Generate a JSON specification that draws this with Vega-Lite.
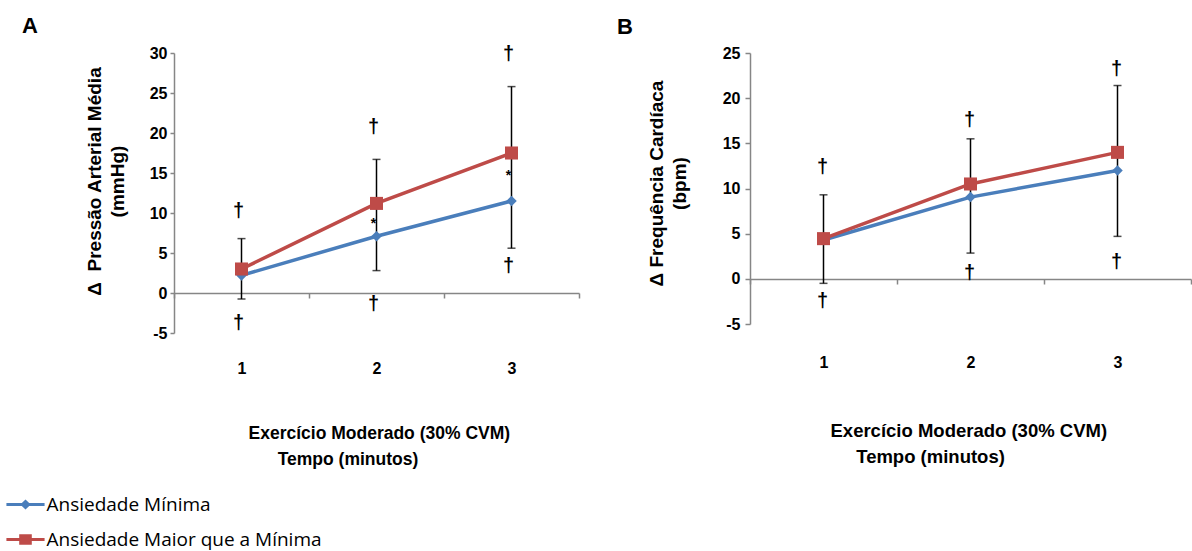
{
  "$schema": "https://vega.github.io/schema/vega-lite/v6.json",
  "background": "white",
  "padding": {"left": 8, "top": 14, "right": 0, "bottom": 0},
  "config": {
    "view": {"stroke": null},
    "font": "Liberation Sans",
    "axis": {"grid": false, "labelOverlap": false, "labelFont": "Liberation Sans", "labelFontWeight": "bold", "labelFontSize": 16, "labelColor": "#000000", "titleFont": "Liberation Sans", "titleFontWeight": "bold", "titleFontSize": 16, "titleColor": "#000000"}
  },
  "datasets": {
    "serA": [
      {"t": 1, "grupo": "Ansiedade Mínima", "v": 2.2},
      {"t": 2, "grupo": "Ansiedade Mínima", "v": 7.1},
      {"t": 3, "grupo": "Ansiedade Mínima", "v": 11.5},
      {"t": 1, "grupo": "Ansiedade Maior que a Mínima", "v": 3.0},
      {"t": 2, "grupo": "Ansiedade Maior que a Mínima", "v": 11.2},
      {"t": 3, "grupo": "Ansiedade Maior que a Mínima", "v": 17.5}
    ],
    "errA": [
      {"t": 1, "lo": -0.75, "hi": 6.8},
      {"t": 2, "lo": 2.8, "hi": 16.7},
      {"t": 3, "lo": 5.6, "hi": 25.8}
    ],
    "annA": [
      {"t": 1, "y": 10.3, "s": "†"},
      {"t": 1, "y": -3.7, "s": "†"},
      {"t": 2, "y": 20.7, "s": "†"},
      {"t": 2, "y": -1.4, "s": "†"},
      {"t": 3, "y": 29.9, "s": "†"},
      {"t": 3, "y": 3.4, "s": "†"},
      {"t": 2, "y": 8.6, "s": "*"},
      {"t": 3, "y": 14.6, "s": "*"}
    ],
    "serB": [
      {"t": 1, "grupo": "Ansiedade Mínima", "v": 4.3},
      {"t": 2, "grupo": "Ansiedade Mínima", "v": 9.05},
      {"t": 3, "grupo": "Ansiedade Mínima", "v": 12.0},
      {"t": 1, "grupo": "Ansiedade Maior que a Mínima", "v": 4.45},
      {"t": 2, "grupo": "Ansiedade Maior que a Mínima", "v": 10.5},
      {"t": 3, "grupo": "Ansiedade Maior que a Mínima", "v": 14.0}
    ],
    "errB": [
      {"t": 1, "lo": -0.5, "hi": 9.3},
      {"t": 2, "lo": 2.85, "hi": 15.5},
      {"t": 3, "lo": 4.7, "hi": 21.4}
    ],
    "annB": [
      {"t": 1, "y": 12.4, "s": "†"},
      {"t": 1, "y": -2.5, "s": "†"},
      {"t": 2, "y": 17.6, "s": "†"},
      {"t": 2, "y": 0.7, "s": "†"},
      {"t": 3, "y": 23.2, "s": "†"},
      {"t": 3, "y": 1.9, "s": "†"}
    ]
  },
  "spacing": 37,
  "resolve": {"scale": {"color": "independent"}},
  "hconcat": [
    {
      "width": 405,
      "height": 280,
      "title": {"text": "A", "anchor": "start", "frame": "group", "dx": -152, "offset": -11, "baseline": "alphabetic", "fontSize": 22, "fontWeight": "bold", "font": "Liberation Sans", "color": "#000000"},
      "resolve": {"axis": {"x": "independent"}},
      "layer": [
        {
          "data": {"name": "errA"},
          "mark": {"type": "rule", "color": "#000000", "strokeWidth": 1.5},
          "encoding": {
            "x": {"field": "t", "type": "quantitative", "scale": {"domain": [0.5, 3.5], "nice": false, "zero": false},
                  "axis": {"orient": "bottom", "offset": -40, "values": [0.5, 1.5, 2.5, 3.5], "labels": false, "title": null, "domainColor": "#868686", "domainWidth": 1.5, "tickColor": "#868686", "tickWidth": 1.5, "tickSize": 5}},
            "y": {"field": "lo", "type": "quantitative", "scale": {"domain": [-5, 30], "nice": false, "zero": false},
                  "axis": {"values": [-5, 0, 5, 10, 15, 20, 25, 30], "labelOverlap": false, "labelBound": false, "labelFlush": false, "labelExpr": "'' + datum.value", "title": ["Δ\u00a0 Pressão Arterial Média", "(mmHg)"], "titleFontSize": 19, "titleLineHeight": 23, "titlePadding": 22, "titleY": 128, "domainColor": "#868686", "domainWidth": 1.5, "tickColor": "#868686", "tickWidth": 1.5, "tickSize": 4, "labelPadding": 3}},
            "y2": {"field": "hi"}
          }
        },
        {
          "data": {"name": "errA"},
          "mark": {"type": "tick", "orient": "horizontal", "size": 8, "thickness": 1.5, "color": "#000000"},
          "encoding": {
            "x": {"field": "t", "type": "quantitative", "axis": null},
            "y": {"field": "lo", "type": "quantitative",
                  "axis": {"values": [-5, 0, 5, 10, 15, 20, 25, 30], "labelOverlap": false, "labelBound": false, "labelFlush": false, "labelExpr": "'' + datum.value", "title": ["Δ\u00a0 Pressão Arterial Média", "(mmHg)"], "titleFontSize": 19, "titleLineHeight": 23, "titlePadding": 22, "titleY": 128, "domainColor": "#868686", "domainWidth": 1.5, "tickColor": "#868686", "tickWidth": 1.5, "tickSize": 4, "labelPadding": 3}}
          }
        },
        {
          "data": {"name": "errA"},
          "mark": {"type": "tick", "orient": "horizontal", "size": 8, "thickness": 1.5, "color": "#000000"},
          "encoding": {
            "x": {"field": "t", "type": "quantitative", "axis": null},
            "y": {"field": "hi", "type": "quantitative",
                  "axis": {"values": [-5, 0, 5, 10, 15, 20, 25, 30], "labelOverlap": false, "labelBound": false, "labelFlush": false, "labelExpr": "'' + datum.value", "title": ["Δ\u00a0 Pressão Arterial Média", "(mmHg)"], "titleFontSize": 19, "titleLineHeight": 23, "titlePadding": 22, "titleY": 128, "domainColor": "#868686", "domainWidth": 1.5, "tickColor": "#868686", "tickWidth": 1.5, "tickSize": 4, "labelPadding": 3}}
          }
        },
        {
          "data": {"name": "serA"},
          "mark": {"type": "line", "strokeWidth": 3.5},
          "encoding": {
            "x": {"field": "t", "type": "quantitative",
                  "axis": {"orient": "bottom", "values": [1, 2, 3], "format": "d", "domain": false, "ticks": false, "tickSize": 0, "labelPadding": 27,
                           "title": ["Exercício Moderado (30% CVM)", "\u200b\u00a0\u00a0\u00a0\u00a0\u00a0\u00a0Tempo (minutos)"], "titleFontSize": 17.5, "titleAlign": "left", "titleX": 74, "titlePadding": 48, "titleLineHeight": 26}},
            "y": {"field": "v", "type": "quantitative",
                  "axis": {"values": [-5, 0, 5, 10, 15, 20, 25, 30], "labelOverlap": false, "labelBound": false, "labelFlush": false, "labelExpr": "'' + datum.value", "title": ["Δ\u00a0 Pressão Arterial Média", "(mmHg)"], "titleFontSize": 19, "titleLineHeight": 23, "titlePadding": 22, "titleY": 128, "domainColor": "#868686", "domainWidth": 1.5, "tickColor": "#868686", "tickWidth": 1.5, "tickSize": 4, "labelPadding": 3}},
            "color": {"field": "grupo", "type": "nominal", "scale": {"domain": ["Ansiedade Mínima", "Ansiedade Maior que a Mínima"], "range": ["#4A7EBB", "#BE4B48"]},
                      "legend": {"orient": "none", "legendX": -166, "legendY": 434, "title": null, "padding": 0, "rowPadding": 7, "symbolSize": 1225, "symbolType": "M-1.09,-0.08H1.09V0.08H-1.09Z M0,-0.28L0.3,0L0,0.28L-0.3,0Z", "symbolStrokeWidth": 0, "symbolOpacity": 1, "labelFont": "Open Sans", "labelFontSize": 19, "labelFontWeight": "normal", "labelColor": "#000000", "labelOffset": 3.5, "labelLimit": 500,
                                 "encode": {"symbols": {"update": {"shape": [{"test": "datum.value === 'Ansiedade Mínima'", "value": "M-1.09,-0.08H1.09V0.08H-1.09Z M0,-0.28L0.3,0L0,0.28L-0.3,0Z"}, {"value": "M-1.09,-0.08H1.09V0.08H-1.09Z M-0.36,-0.3H0.36V0.3H-0.36Z"}], "strokeWidth": {"value": 0}, "fill": [{"test": "datum.value === 'Ansiedade Mínima'", "value": "#4A7EBB"}, {"value": "#BE4B48"}], "fillOpacity": {"value": 1}}}}}}
          }
        },
        {
          "data": {"name": "serA"},
          "transform": [{"filter": "datum.grupo === 'Ansiedade Mínima'"}],
          "mark": {"type": "point", "filled": true, "opacity": 1, "shape": "diamond", "size": 110, "color": "#4A7EBB"},
          "encoding": {
            "x": {"field": "t", "type": "quantitative", "axis": null},
            "y": {"field": "v", "type": "quantitative",
                  "axis": {"values": [-5, 0, 5, 10, 15, 20, 25, 30], "labelOverlap": false, "labelBound": false, "labelFlush": false, "labelExpr": "'' + datum.value", "title": ["Δ\u00a0 Pressão Arterial Média", "(mmHg)"], "titleFontSize": 19, "titleLineHeight": 23, "titlePadding": 22, "titleY": 128, "domainColor": "#868686", "domainWidth": 1.5, "tickColor": "#868686", "tickWidth": 1.5, "tickSize": 4, "labelPadding": 3}}
          }
        },
        {
          "data": {"name": "serA"},
          "transform": [{"filter": "datum.grupo !== 'Ansiedade Mínima'"}],
          "mark": {"type": "point", "filled": true, "opacity": 1, "shape": "square", "size": 170, "color": "#BE4B48"},
          "encoding": {
            "x": {"field": "t", "type": "quantitative", "axis": null},
            "y": {"field": "v", "type": "quantitative",
                  "axis": {"values": [-5, 0, 5, 10, 15, 20, 25, 30], "labelOverlap": false, "labelBound": false, "labelFlush": false, "labelExpr": "'' + datum.value", "title": ["Δ\u00a0 Pressão Arterial Média", "(mmHg)"], "titleFontSize": 19, "titleLineHeight": 23, "titlePadding": 22, "titleY": 128, "domainColor": "#868686", "domainWidth": 1.5, "tickColor": "#868686", "tickWidth": 1.5, "tickSize": 4, "labelPadding": 3}}
          }
        },
        {
          "data": {"name": "annA"},
          "transform": [{"filter": "datum.s === '†'"}],
          "mark": {"type": "text", "font": "Liberation Sans", "fontWeight": "bold", "fontSize": 20, "baseline": "middle", "dx": -3, "color": "#000000"},
          "encoding": {
            "x": {"field": "t", "type": "quantitative", "axis": null},
            "y": {"field": "y", "type": "quantitative",
                  "axis": {"values": [-5, 0, 5, 10, 15, 20, 25, 30], "labelOverlap": false, "labelBound": false, "labelFlush": false, "labelExpr": "'' + datum.value", "title": ["Δ\u00a0 Pressão Arterial Média", "(mmHg)"], "titleFontSize": 19, "titleLineHeight": 23, "titlePadding": 22, "titleY": 128, "domainColor": "#868686", "domainWidth": 1.5, "tickColor": "#868686", "tickWidth": 1.5, "tickSize": 4, "labelPadding": 3}},
            "text": {"field": "s"}
          }
        },
        {
          "data": {"name": "annA"},
          "transform": [{"filter": "datum.s === '*'"}],
          "mark": {"type": "text", "font": "Liberation Sans", "fontWeight": "bold", "fontSize": 14, "baseline": "middle", "dx": -3, "color": "#000000"},
          "encoding": {
            "x": {"field": "t", "type": "quantitative", "axis": null},
            "y": {"field": "y", "type": "quantitative",
                  "axis": {"values": [-5, 0, 5, 10, 15, 20, 25, 30], "labelOverlap": false, "labelBound": false, "labelFlush": false, "labelExpr": "'' + datum.value", "title": ["Δ\u00a0 Pressão Arterial Média", "(mmHg)"], "titleFontSize": 19, "titleLineHeight": 23, "titlePadding": 22, "titleY": 128, "domainColor": "#868686", "domainWidth": 1.5, "tickColor": "#868686", "tickWidth": 1.5, "tickSize": 4, "labelPadding": 3}},
            "text": {"field": "s"}
          }
        }
      ]
    },
    {
      "width": 441,
      "height": 271,
      "title": {"text": "B", "anchor": "start", "frame": "group", "dx": -133, "offset": -11, "baseline": "alphabetic", "fontSize": 22, "fontWeight": "bold", "font": "Liberation Sans", "color": "#000000"},
      "resolve": {"axis": {"x": "independent"}},
      "layer": [
        {
          "data": {"name": "errB"},
          "mark": {"type": "rule", "color": "#000000", "strokeWidth": 1.5},
          "encoding": {
            "x": {"field": "t", "type": "quantitative", "scale": {"domain": [0.5, 3.5], "nice": false, "zero": false},
                  "axis": {"orient": "bottom", "offset": -45, "values": [0.5, 1.5, 2.5, 3.5], "labels": false, "title": null, "domainColor": "#868686", "domainWidth": 1.5, "tickColor": "#868686", "tickWidth": 1.5, "tickSize": 5}},
            "y": {"field": "lo", "type": "quantitative", "scale": {"domain": [-5, 25], "nice": false, "zero": false},
                  "axis": {"values": [-5, 0, 5, 10, 15, 20, 25], "labelOverlap": false, "labelExpr": "'' + datum.value", "title": ["Δ Frequência Cardíaca", "(bpm)"], "titleFontSize": 19, "titleLineHeight": 23, "titlePadding": 33, "titleY": 130, "domainColor": "#868686", "domainWidth": 1.5, "tickColor": "#868686", "tickWidth": 1.5, "tickSize": 5, "labelPadding": 5}},
            "y2": {"field": "hi"}
          }
        },
        {
          "data": {"name": "errB"},
          "mark": {"type": "tick", "orient": "horizontal", "size": 8, "thickness": 1.5, "color": "#000000"},
          "encoding": {
            "x": {"field": "t", "type": "quantitative", "axis": null},
            "y": {"field": "lo", "type": "quantitative"}
          }
        },
        {
          "data": {"name": "errB"},
          "mark": {"type": "tick", "orient": "horizontal", "size": 8, "thickness": 1.5, "color": "#000000"},
          "encoding": {
            "x": {"field": "t", "type": "quantitative", "axis": null},
            "y": {"field": "hi", "type": "quantitative"}
          }
        },
        {
          "data": {"name": "serB"},
          "mark": {"type": "line", "strokeWidth": 3.5},
          "encoding": {
            "x": {"field": "t", "type": "quantitative",
                  "axis": {"orient": "bottom", "values": [1, 2, 3], "format": "d", "domain": false, "ticks": false, "tickSize": 0, "labelPadding": 30,
                           "title": ["Exercício Moderado (30% CVM)", "\u200b\u00a0\u00a0\u00a0\u00a0\u00a0Tempo (minutos)"], "titleFontSize": 18.5, "titleAlign": "left", "titleX": 80, "titlePadding": 51, "titleLineHeight": 26}},
            "y": {"field": "v", "type": "quantitative"},
            "color": {"field": "grupo", "type": "nominal", "scale": {"domain": ["Ansiedade Mínima", "Ansiedade Maior que a Mínima"], "range": ["#4A7EBB", "#BE4B48"]}, "legend": null}
          }
        },
        {
          "data": {"name": "serB"},
          "transform": [{"filter": "datum.grupo === 'Ansiedade Mínima'"}],
          "mark": {"type": "point", "filled": true, "opacity": 1, "shape": "diamond", "size": 110, "color": "#4A7EBB"},
          "encoding": {
            "x": {"field": "t", "type": "quantitative", "axis": null},
            "y": {"field": "v", "type": "quantitative"}
          }
        },
        {
          "data": {"name": "serB"},
          "transform": [{"filter": "datum.grupo !== 'Ansiedade Mínima'"}],
          "mark": {"type": "point", "filled": true, "opacity": 1, "shape": "square", "size": 170, "color": "#BE4B48"},
          "encoding": {
            "x": {"field": "t", "type": "quantitative", "axis": null},
            "y": {"field": "v", "type": "quantitative"}
          }
        },
        {
          "data": {"name": "annB"},
          "mark": {"type": "text", "font": "Liberation Sans", "fontWeight": "bold", "fontSize": 20, "baseline": "middle", "dx": -1, "color": "#000000"},
          "encoding": {
            "x": {"field": "t", "type": "quantitative", "axis": null},
            "y": {"field": "y", "type": "quantitative"},
            "text": {"field": "s"}
          }
        }
      ]
    }
  ]
}
